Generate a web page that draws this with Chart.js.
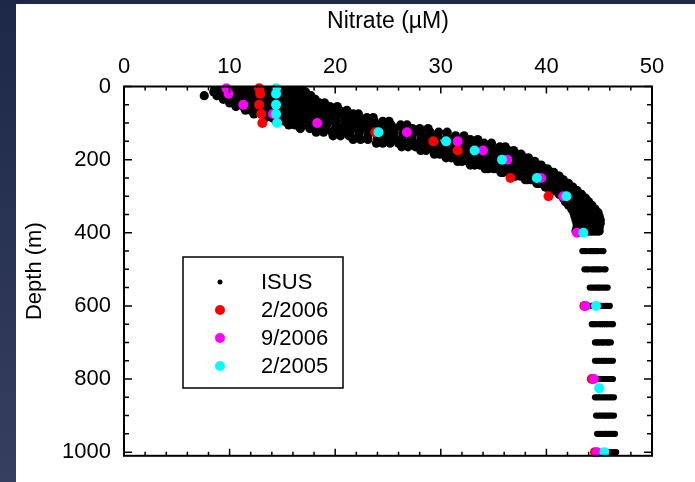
<!DOCTYPE html>
<html><head><meta charset="utf-8">
<script src="https://cdn.jsdelivr.net/npm/chart.js@4.4.1/dist/chart.umd.min.js"></script>
<style>
html,body{margin:0;padding:0;}
body{width:695px;height:482px;overflow:hidden;background:linear-gradient(to bottom,#1d2747,#363f60);position:relative;}
#wrap{position:absolute;left:16px;top:4px;width:679px;height:478px;background:#fff;}
</style></head><body>
<div id="wrap"><canvas id="c" width="679" height="478"></canvas></div>
<script>
// ---- axis tick labels ----
const xTickLabels = [0, 10, 20, 30, 40, 50];
const yTickLabels = [0, 200, 400, 600, 800, 1000];

// ---- ISUS float profiles: depth rows (m) and nitrate values (µM) at each depth ----
const isusDepths = [5,15,25,35,45,55,65,75,85,95,105,115,125,135,145,155,165,175,185,195,
  205,215,225,235,245,255,265,275,285,295,305,315,325,335,345,355,365,375,385,395,
  450,500,550,600,650,700,750,800,850,900,950,1000];
const isusNitrate = [
  [8.6,9.1,9.7,10.2,10.7,11.3,11.9,12.4,13.1,13.6,14.1,14.8,15.3,15.8,16.4,16.9],
  [8.5,9.2,9.6,10.3,10.9,11.4,12.1,12.6,13.1,13.8,14.3,15.0,15.5,16.2,16.7,17.2],
  [7.6,8.8,9.3,10.0,10.5,11.2,11.7,12.4,12.9,13.6,14.1,14.8,15.3,15.8,16.5,17.0,17.7],
  [9.4,10.1,10.6,11.1,11.8,12.3,12.8,13.5,14.1,14.6,15.3,15.8,16.5,17.0,17.6,18.1],
  [10.0,10.7,11.2,11.8,12.5,13.0,13.6,14.3,14.8,15.5,16.0,16.7,17.3,17.8,18.5,19.0],
  [10.6,11.3,11.8,12.5,13.1,13.8,14.5,15.0,15.7,16.3,17.0,17.7,18.2,18.9,19.5,20.2],
  [11.5,12.0,12.7,13.3,14.1,14.6,15.3,16.0,16.5,17.3,17.9,18.5,19.2,19.9,20.4,21.1],
  [12.3,13.0,13.7,14.2,15.0,15.7,16.2,17.0,17.7,18.3,18.9,19.7,20.3,20.9,21.7,22.2],
  [13.4,14.0,14.6,15.4,16.1,16.7,17.5,18.2,18.9,19.5,20.1,20.9,21.6,22.2,23.0,23.6],
  [14.4,15.2,15.8,16.5,17.3,18.1,18.7,19.4,20.1,20.9,21.7,22.3,23.0,23.7,24.5,25.1],
  [15.6,16.2,17.0,17.9,18.5,19.2,20.1,20.9,21.5,22.3,23.2,23.8,24.6,25.3,26.2,26.8],
  [16.7,17.6,18.3,19.0,20.0,20.7,21.6,22.5,23.2,24.0,24.9,25.6,26.4,27.3,28.0,28.8],
  [18.2,18.9,19.7,20.6,21.4,22.3,23.2,24.0,24.8,25.6,26.5,27.4,28.1,29.0,29.8,30.6],
  [19.8,20.5,21.3,22.2,23.1,24.0,24.7,25.5,26.4,27.3,28.2,28.9,29.7,30.6,31.4,32.2],
  [21.7,22.4,23.1,24.0,24.9,25.6,26.3,27.2,28.1,28.8,29.5,30.4,31.2,32.1,32.8,33.5],
  [23.9,24.5,25.2,26.0,26.9,27.5,28.3,29.0,29.6,30.5,31.3,31.9,32.6,33.4,34.1,34.8],
  [26.3,26.9,27.6,28.2,28.8,29.6,30.2,30.8,31.6,32.2,32.9,33.6,34.2,34.8,35.6,36.1],
  [28.1,28.6,29.3,29.8,30.5,31.0,31.6,32.3,32.8,33.5,34.0,34.6,35.3,35.8,36.4,36.9],
  [29.4,29.9,30.5,31.0,31.6,32.1,32.6,33.3,33.8,34.4,34.9,35.4,36.0,36.6,37.2,37.6],
  [30.5,31.0,31.4,32.0,32.6,33.1,33.5,34.2,34.7,35.2,35.8,36.3,36.8,37.4,37.9,38.3],
  [31.6,32.0,32.6,33.0,33.5,34.1,34.5,35.0,35.6,36.0,36.5,37.1,37.5,38.1,38.5,38.9],
  [32.8,33.2,33.7,34.1,34.6,35.0,35.4,35.9,36.4,36.9,37.3,37.7,38.2,38.7,39.2,39.5],
  [34.2,34.5,35.0,35.3,35.8,36.1,36.6,36.9,37.4,37.8,38.3,38.6,39.0,39.5,39.8,40.1],
  [35.7,35.9,36.4,36.6,37.1,37.3,37.7,38.1,38.4,38.7,39.2,39.4,39.8,40.2,40.5,40.7],
  [36.9,37.1,37.5,37.7,38.0,38.4,38.6,38.9,39.3,39.5,39.8,40.2,40.4,40.7,41.1,41.2],
  [38.0,38.2,38.5,38.7,39.0,39.2,39.4,39.7,40.0,40.2,40.4,40.7,41.0,41.2,41.4,41.6],
  [39.1,39.2,39.5,39.6,39.9,40.1,40.3,40.6,40.7,40.9,41.2,41.3,41.6,41.8,42.0,42.1],
  [39.9,40.0,40.2,40.4,40.6,40.7,40.9,41.2,41.3,41.5,41.7,41.9,42.1,42.2,42.4,42.5],
  [40.6,40.7,40.9,41.0,41.2,41.4,41.5,41.7,41.9,42.0,42.2,42.4,42.5,42.7,42.9,42.9],
  [41.2,41.3,41.5,41.6,41.8,41.9,42.1,42.2,42.4,42.5,42.7,42.8,43.0,43.1,43.3,43.3],
  [41.6,41.7,41.8,42.0,42.1,42.3,42.4,42.6,42.7,42.9,43.0,43.2,43.3,43.5,43.6,43.7],
  [41.8,42.0,42.1,42.3,42.4,42.6,42.7,42.9,43.0,43.2,43.3,43.5,43.6,43.8,43.9,44.0],
  [42.1,42.3,42.4,42.6,42.7,42.9,43.0,43.2,43.3,43.5,43.6,43.8,43.9,44.1,44.2,44.3],
  [42.4,42.5,42.7,42.8,43.0,43.1,43.3,43.4,43.6,43.7,43.9,44.0,44.2,44.3,44.5,44.6],
  [42.6,42.8,42.9,43.1,43.2,43.4,43.5,43.7,43.8,44.0,44.1,44.3,44.4,44.6,44.7,44.9],
  [42.7,42.9,43.0,43.2,43.3,43.5,43.6,43.8,43.9,44.1,44.2,44.4,44.5,44.7,44.8,45.0],
  [42.8,43.0,43.1,43.3,43.4,43.6,43.7,43.9,44.0,44.2,44.3,44.5,44.6,44.8,44.9,45.1],
  [42.9,43.0,43.2,43.3,43.5,43.6,43.8,43.9,44.1,44.2,44.4,44.5,44.7,44.8,45.0,45.1],
  [42.9,43.1,43.2,43.4,43.5,43.7,43.8,44.0,44.1,44.2,44.4,44.5,44.7,44.8,44.9,45.0],
  [42.8,42.9,43.1,43.2,43.4,43.5,43.7,43.8,44.0,44.1,44.3,44.4,44.6,44.7,44.9,45.0],
  [43.4,43.6,43.8,44.1,44.3,44.5,44.7,44.9,45.2,45.4],
  [43.6,43.8,44.0,44.3,44.5,44.7,44.9,45.1,45.4,45.6],
  [44.1,44.3,44.5,44.7,44.9,45.0,45.2,45.4,45.6,45.8],
  [44.3,44.5,44.7,44.9,45.1,45.2,45.4,45.6,45.8,46.0],
  [44.3,44.5,44.7,45.0,45.2,45.4,45.6,45.8,46.1,46.3],
  [44.6,44.8,44.9,45.1,45.3,45.4,45.6,45.8,45.9,46.1],
  [44.6,44.8,45.0,45.2,45.4,45.5,45.7,45.9,46.1,46.3],
  [44.9,45.1,45.2,45.4,45.5,45.7,45.8,46.0,46.1,46.3],
  [44.6,44.8,45.0,45.2,45.4,45.6,45.8,46.0,46.2,46.4],
  [44.7,44.9,45.1,45.3,45.5,45.6,45.8,46.0,46.2,46.4],
  [44.8,45.0,45.2,45.4,45.6,45.7,45.9,46.1,46.3,46.5],
  [44.7,44.9,45.1,45.3,45.5,45.7,45.9,46.1,46.4,46.6]
];

// ---- bottle samples ----
const feb2006Depth   = [5,20,50,75,100,125,150,175,250,300,600,800,1000];
const feb2006Nitrate = [12.8,12.9,12.8,13.0,13.1,23.8,29.3,31.6,36.6,40.2,43.6,44.3,44.6];
const sep2006Depth   = [5,20,50,75,100,125,150,175,200,250,300,400,600,800,1000];
const sep2006Nitrate = [9.7,9.9,11.3,14.1,18.3,26.8,31.6,34.0,36.3,39.5,41.6,42.9,43.7,44.5,44.8];
const feb2005Depth   = [5,20,50,75,100,125,150,175,200,250,300,400,600,825,1000];
const feb2005Nitrate = [14.4,14.4,14.4,14.4,14.5,24.1,30.5,33.2,35.8,39.1,41.9,43.5,44.7,45.0,45.5];

const seriesNames = ['ISUS', '2/2006', '9/2006', '2/2005'];
const seriesColors = ['#000000', '#ff0000', '#ff00ff', '#00ffff'];

// ---- build datasets ----
const isusPts = [];
isusDepths.forEach((d, i) => isusNitrate[i].forEach(v => isusPts.push({x: v, y: d})));
const pts = (dep, nit) => dep.map((d, i) => ({x: nit[i], y: d}));

const FONT = 'Liberation Sans, Arial, Helvetica, sans-serif';

const frameTicks = {
  id: 'frameTicks',
  afterDatasetsDraw(chart) {
    const {ctx, chartArea: a, scales: {x, y}} = chart;
    ctx.save();
    ctx.strokeStyle = '#000';
    ctx.lineWidth = 1.5;
    ctx.beginPath();
    for (let v = 0; v <= 50; v += 2) {
      const px = x.getPixelForValue(v);
      const len = xTickLabels.includes(v) ? 7 : 4;
      ctx.moveTo(px, a.top); ctx.lineTo(px, a.top + len);
      ctx.moveTo(px, a.bottom); ctx.lineTo(px, a.bottom - len);
    }
    for (let v = 0; v <= 1000; v += 50) {
      const py = y.getPixelForValue(v);
      const len = yTickLabels.includes(v) ? 8 : 5;
      ctx.moveTo(a.left, py); ctx.lineTo(a.left + len, py);
      ctx.moveTo(a.right, py); ctx.lineTo(a.right - len, py);
    }
    ctx.stroke();
    ctx.lineWidth = 2;
    ctx.strokeRect(a.left, a.top, a.right - a.left, a.bottom - a.top);

    // legend box
    const bx = 167, by = 253, bw = 160, bh = 131;
    ctx.fillStyle = '#fff';
    ctx.fillRect(bx, by, bw, bh);
    ctx.lineWidth = 1.5;
    ctx.strokeRect(bx, by, bw, bh);
    ctx.font = '22px ' + FONT;
    ctx.textBaseline = 'middle';
    ctx.textAlign = 'left';
    seriesNames.forEach((n, i) => {
      const cy = by + 25 + i * 28;
      ctx.fillStyle = seriesColors[i];
      ctx.beginPath();
      ctx.arc(bx + 37, cy, i === 0 ? 2.5 : 5, 0, Math.PI * 2);
      ctx.fill();
      ctx.fillStyle = '#000';
      ctx.fillText(n, bx + 78, cy + 1);
    });
    ctx.restore();
  }
};

new Chart(document.getElementById('c'), {
  type: 'scatter',
  data: {
    datasets: [
      {label: seriesNames[0], data: isusPts, backgroundColor: seriesColors[0],
       pointRadius: c => (c.raw && c.raw.y > 420 ? 3.1 : 4.6), borderWidth: 0, order: 4, clip: 0},
      {label: seriesNames[1], data: pts(feb2006Depth, feb2006Nitrate), backgroundColor: seriesColors[1], pointRadius: 5, borderWidth: 0, order: 3, clip: false},
      {label: seriesNames[2], data: pts(sep2006Depth, sep2006Nitrate), backgroundColor: seriesColors[2], pointRadius: 5, borderWidth: 0, order: 2, clip: false},
      {label: seriesNames[3], data: pts(feb2005Depth, feb2005Nitrate), backgroundColor: seriesColors[3], pointRadius: 5, borderWidth: 0, order: 1, clip: false}
    ]
  },
  options: {
    responsive: false,
    animation: false,
    devicePixelRatio: 1,
    layout: {padding: {left: 0, top: 0, right: 43, bottom: 26}},
    plugins: {legend: {display: false}, tooltip: {enabled: false}},
    scales: {
      x: {
        type: 'linear', position: 'top', min: 0, max: 50,
        afterBuildTicks: s => { s.ticks = xTickLabels.map(v => ({value: v})); },
        afterFit: s => { s.height = 82.5; },
        ticks: {color: '#000', font: {family: FONT, size: 22}, padding: 6, callback: v => String(v)},
        grid: {display: false, drawTicks: false},
        border: {display: false},
        title: {display: true, text: 'Nitrate (µM)', color: '#000', font: {family: FONT, size: 23}, padding: {top: 4, bottom: 0}}
      },
      y: {
        type: 'linear', reverse: true, min: 0, max: 1010,
        afterBuildTicks: s => { s.ticks = yTickLabels.map(v => ({value: v})); },
        afterFit: s => { s.width = 108; },
        ticks: {color: '#000', font: {family: FONT, size: 22}, padding: 13, callback: v => String(v)},
        grid: {display: false, drawTicks: false},
        border: {display: false},
        title: {display: true, text: 'Depth (m)', color: '#000', font: {family: FONT, size: 22}, padding: {top: 6, bottom: 0}}
      }
    }
  },
  plugins: [frameTicks]
});
</script></body></html>
